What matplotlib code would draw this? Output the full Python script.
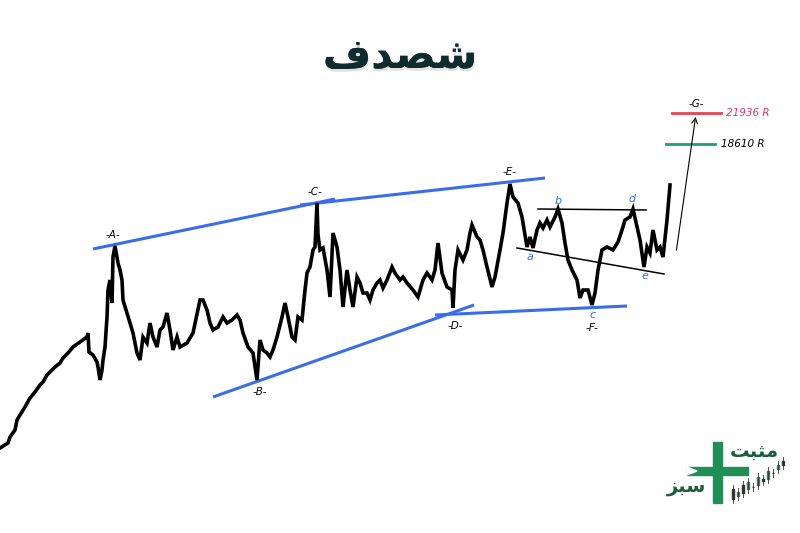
import matplotlib
matplotlib.use("Agg")
import matplotlib.pyplot as plt
from matplotlib.patches import Rectangle, Polygon
import matplotlib.patheffects as pe

# price path (bar index, price in chart units)
bar_idx = [0, 8, 10, 15, 17, 20, 25, 30, 35, 40, 43, 47, 50, 55, 60, 63, 68, 73, 80, 87,
           88, 89, 93, 97, 98, 100, 102, 103, 105, 107, 108, 110, 112, 113, 115, 118, 120,
           122, 123, 127, 130, 133, 137, 140, 143, 147, 150, 153, 157, 160, 163, 167, 170,
           173, 177, 180, 187, 193, 200, 203, 207, 210, 213, 218, 223, 227, 232, 237, 240,
           243, 248, 253, 257, 260, 263, 267, 270, 273, 277, 282, 285, 288, 292, 295, 298,
           302, 305, 307, 310, 313, 315, 317, 318, 320, 323, 327, 330, 333, 337, 340, 343,
           347, 350, 353, 357, 360, 363, 367, 370, 373, 377, 380, 383, 387, 392, 395, 400,
           403, 407, 413, 418, 423, 427, 432, 435, 438, 442, 447, 452, 453, 455, 458, 463,
           467, 470, 472, 477, 480, 483, 487, 492, 495, 500, 503, 507, 510, 513, 518, 522,
           527, 530, 533, 537, 540, 543, 547, 550, 555, 558, 562, 565, 568, 572, 577, 580,
           583, 588, 592, 595, 598, 602, 607, 613, 618, 622, 625, 630, 633, 637, 640, 644,
           647, 650, 653, 657, 660, 663, 667, 670]
price = [85, 90, 96, 103, 113, 118, 126, 135, 141, 148, 151, 158, 161, 166, 170, 175, 180,
         186, 191, 196, 200, 181, 178, 171, 166, 153, 163, 173, 186, 216, 243, 253, 230, 276,
         287, 270, 263, 253, 233, 220, 210, 200, 180, 173, 196, 190, 210, 196, 186, 203, 206,
         220, 203, 183, 196, 186, 190, 200, 233, 233, 223, 210, 203, 206, 216, 210, 213, 218,
         213, 200, 186, 180, 153, 193, 183, 180, 176, 183, 196, 216, 230, 216, 196, 193, 216,
         213, 243, 260, 266, 283, 286, 330, 298, 283, 285, 263, 236, 300, 286, 263, 226, 263,
         243, 226, 256, 250, 240, 240, 233, 243, 250, 253, 245, 253, 266, 260, 253, 256, 250,
         243, 236, 253, 260, 253, 263, 290, 260, 246, 243, 225, 263, 283, 273, 283, 300, 308,
         296, 293, 283, 266, 246, 256, 283, 300, 330, 349, 336, 330, 316, 286, 296, 285, 303,
         310, 305, 313, 306, 316, 324, 310, 290, 273, 263, 253, 235, 243, 243, 228, 240, 263,
         283, 286, 283, 291, 303, 313, 316, 324, 306, 293, 266, 286, 280, 303, 283, 286, 276,
         313, 348]

# trend lines (bar, price) pairs
upper_ac = ([93, 335], [284, 334])
upper_ce = ([300, 545], [328, 355])
lower_bd = ([213, 474], [136, 228])
lower_df = ([435, 627], [218, 227])
line_bd_small = ([538, 646], [324, 323])
line_ae_small = ([517, 664], [285, 259])

# target levels
lvl_red = 21936
lvl_green = 18610
red_y, green_y = 420, 389
red_x = [672, 721]
green_x = [666, 715]

wave_labels = ["-A-", "-B-", "-C-", "-D-", "-E-", "-F-", "-G-"]
wave_pos = [(113, 298), (260, 141), (315, 341), (455, 207), (510, 361), (592, 205), (696, 429)]
sub_labels = ["a", "b", "c", "d", "e"]
sub_pos = [(530, 276), (558, 332), (593, 218), (632, 334), (645, 257)]

# logo candles (bar, low, high)
logo_candles = [(733, 30, 48), (738, 33, 45), (743, 36, 52), (748, 40, 55), (753, 42, 50),
                (758, 44, 60), (763, 48, 58), (768, 50, 66), (773, 56, 64), (778, 60, 72),
                (783, 64, 76)]

_forms = {
    "ش": "\uFEB5\uFEB6\uFEB7\uFEB8", "ص": "\uFEB9\uFEBA\uFEBB\uFEBC",
    "د": "\uFEA9\uFEAA", "ف": "\uFED1\uFED2\uFED3\uFED4",
    "م": "\uFEE1\uFEE2\uFEE3\uFEE4", "ث": "\uFE99\uFE9A\uFE9B\uFE9C",
    "ب": "\uFE8F\uFE90\uFE91\uFE92", "ت": "\uFE95\uFE96\uFE97\uFE98",
    "س": "\uFEB1\uFEB2\uFEB3\uFEB4", "ز": "\uFEAF\uFEB0",
}


def shape(word):
    """tiny arabic shaper: pick contextual forms, return visual order."""
    out = []
    for i, ch in enumerate(word):
        f = _forms[ch]
        prev_joins = i > 0 and len(_forms[word[i - 1]]) == 4
        next_joins = i < len(word) - 1 and len(f) == 4
        if prev_joins and next_joins:
            out.append(f[3])
        elif next_joins:
            out.append(f[2])
        elif prev_joins:
            out.append(f[1])
        else:
            out.append(f[0])
    return "".join(reversed(out))


fig = plt.figure(figsize=(8, 5.33), dpi=100)
ax = fig.add_axes([0, 0, 1, 1])
ax.set_xlim(0, 800)
ax.set_ylim(0, 533)
ax.axis("off")

blue = "#3a6ee8"
for xs, ys in [upper_ac, upper_ce, lower_bd, lower_df]:
    ax.plot(xs, ys, color=blue, lw=2.2, solid_capstyle="butt")
for xs, ys in [line_bd_small, line_ae_small]:
    ax.plot(xs, ys, color="black", lw=1.1)

ax.plot(bar_idx, price, color="black", lw=2.6, solid_joinstyle="miter")

ax.plot(red_x, [red_y, red_y], color="#e8434f", lw=2)
ax.plot(green_x, [green_y, green_y], color="#1e9e78", lw=2)
ax.text(726, red_y, f"{lvl_red} R", color="#e0336e", fontsize=7.5, style="italic",
        va="center")
ax.text(721, green_y, f"{lvl_green} R", color="black", fontsize=7.5, style="italic",
        va="center")
ax.annotate("", xy=(696, 419), xytext=(676, 280),
            arrowprops=dict(arrowstyle="->", color="black", lw=0.8))

for t, (x, y) in zip(wave_labels, wave_pos):
    ax.text(x, y, t, fontsize=7.5, style="italic", ha="center", va="center")
for t, (x, y) in zip(sub_labels, sub_pos):
    ax.text(x, y, t, fontsize=8, style="italic", ha="center", va="center", color=blue)

ax.text(400, 477, shape("شصدف"), fontsize=30, fontweight="bold", color="#0f2b2e",
        ha="center", va="center", family="DejaVu Sans",
        path_effects=[pe.withSimplePatchShadow(offset=(0.5, -2), alpha=0.12),
                      pe.Normal()])

# logo
green = "#1f8f55"
ax.add_patch(Rectangle((713, 30), 9, 61, color=green))
ax.add_patch(Rectangle((687, 58), 61, 8, color=green))
ax.add_patch(Polygon([(687, 66), (697, 62), (687, 58)], color="white"))
for x, lo, hi in logo_candles:
    ax.plot([x, x], [lo, hi], color="#333333", lw=0.6)
    ax.add_patch(Rectangle((x - 1.2, lo + 4), 2.4, (hi - lo) - 8,
                           color=green if (x // 5) % 2 else "#333333"))
ax.text(754, 82, shape("مثبت"), fontsize=14, fontweight="bold", color="#1b5e3b",
        ha="center", va="center", family="DejaVu Sans")
ax.text(686, 46, shape("سبز"), fontsize=14, fontweight="bold", color="#1b5e3b",
        ha="center", va="center", family="DejaVu Sans")

fig.savefig("out.png", dpi=100, facecolor="white")
